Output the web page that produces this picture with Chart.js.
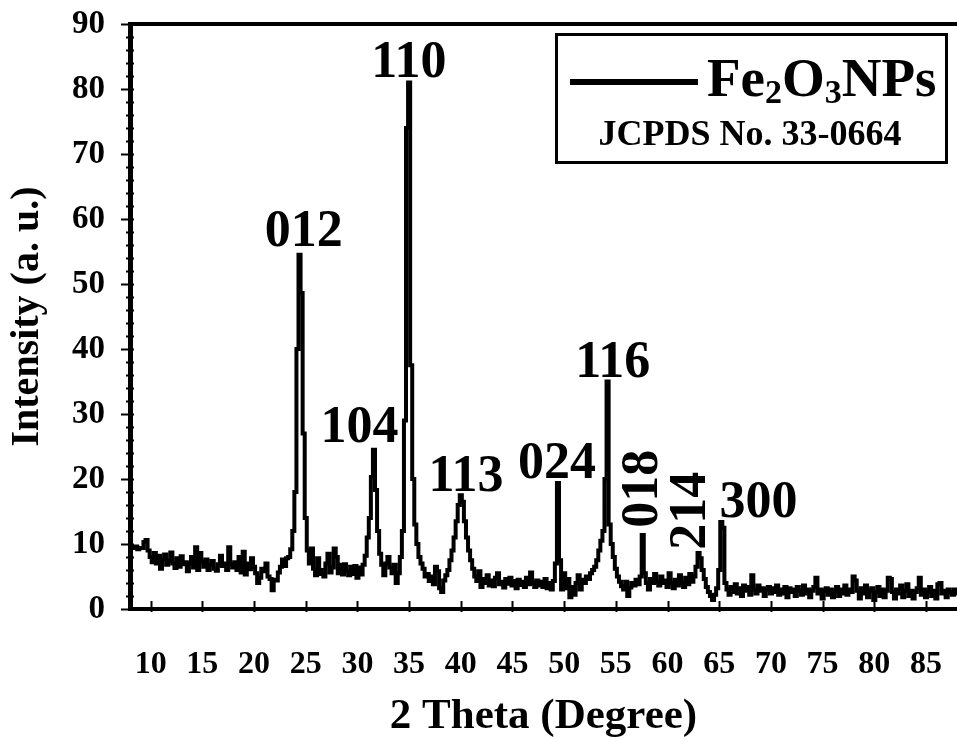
<!DOCTYPE html>
<html>
<head>
<meta charset="utf-8">
<script src="https://cdn.jsdelivr.net/npm/chart.js@4.4.0/dist/chart.umd.min.js"></script>
<style>
  html, body { margin: 0; padding: 0; background: #fff; }
  #wrap { width: 957px; height: 739px; }
</style>
</head>
<body>
<div id="wrap"><canvas id="chart" width="957" height="739"></canvas></div>
<script>
// XRD pattern, 2θ from 8° to 88° in 0.2° steps
const thetaStart = 8;
const thetaStep = 0.2;
const intensity = [
    8.5, 9.5, 9.4, 9.6, 9.2, 9.4, 9.4, 10.3, 10.6, 9.0,   // 8
    8.0, 7.2, 8.6, 7.0, 8.2, 6.2, 7.6, 8.4, 6.8, 7.4,     // 10
    8.7, 7.0, 6.3, 7.8, 6.5, 8.1, 6.9, 7.2, 5.8, 7.0,     // 12
    8.0, 6.4, 9.5, 6.0, 8.6, 7.3, 6.5, 7.6, 6.0, 6.8,     // 14
    7.4, 6.2, 5.9, 6.9, 8.2, 6.6, 7.0, 6.0, 9.5, 6.9,     // 16
    6.4, 7.2, 6.0, 8.0, 5.6, 8.8, 5.3, 7.0, 6.1, 7.8,     // 18
    6.5, 5.5, 4.0, 4.8, 6.2, 5.8, 7.0, 5.0, 4.6, 2.9,     // 20
    4.5, 4.4, 5.6, 6.5, 7.6, 6.6, 7.8, 8.0, 9.2, 12,      // 22
    18, 40, 54.5, 48.6, 27, 14, 9, 7, 9.3, 6.2,           // 24
    5.2, 7.8, 5.4, 6.0, 5.0, 7.0, 8.5, 5.6, 6.4, 9.3,     // 26
    8.0, 5.5, 6.8, 5.3, 6.9, 5.8, 5.2, 6.5, 5.4, 6.6,     // 28
    4.8, 6.4, 5.3, 6.8, 8.2, 11, 14, 20.3, 24.5, 18.3,    // 30
    12, 8.5, 6.8, 5.2, 7.0, 8.0, 6.4, 5.5, 6.8, 4.0,      // 32
    5.5, 8.0, 12, 29, 74, 81, 37.5, 20, 13, 10,           // 34
    8, 7, 6.2, 5.0, 5.4, 4.3, 5.0, 3.8, 6.5, 5.8,         // 36
    3.2, 2.6, 4.4, 5.2, 6.0, 7.5, 9.0, 11, 13.5, 16,      // 38
    17.5, 16.5, 13.5, 11, 9.0, 7.5, 6.2, 5.0, 4.3, 5.8,   // 40
    3.4, 4.6, 4.0, 5.2, 3.6, 4.4, 3.5, 4.8, 5.5, 3.8,     // 42
    4.2, 3.3, 4.6, 3.9, 4.8, 3.6, 4.3, 3.2, 4.5, 3.7,     // 44
    4.2, 3.4, 4.8, 3.8, 5.6, 4.0, 3.4, 4.4, 3.6, 4.2,     // 46
    3.4, 4.6, 3.2, 4.0, 3.0, 4.3, 7.0, 19.4, 7.5, 3.0,    // 48
    5.5, 3.2, 4.6, 1.8, 3.4, 2.2, 4.0, 5.2, 3.0, 4.5,     // 50
    4.0, 5.0, 4.6, 5.5, 6.0, 6.5, 7.5, 9, 10.5, 12,       // 52
    20, 35, 13, 10, 8, 6.2, 5.0, 4.2, 3.5, 3.0,           // 54
    4.2, 2.0, 3.3, 4.0, 3.6, 4.5, 3.8, 5.0, 11.4, 5.5,    // 56
    4.0, 3.0, 4.6, 4.0, 5.4, 4.2, 3.6, 5.0, 4.0, 4.4,     // 58
    3.4, 5.5, 4.0, 3.2, 4.5, 3.6, 5.2, 4.0, 3.4, 4.8,     // 60
    3.8, 5.4, 4.2, 5.0, 6.5, 8.6, 7.8, 6.0, 4.6, 3.4,     // 62
    2.6, 2.0, 1.4, 2.2, 3.2, 6.0, 13.4, 12.5, 4.0, 3.0,   // 64
    2.2, 3.4, 2.6, 3.8, 2.4, 3.2, 2.0, 3.6, 2.8, 3.4,     // 66
    2.2, 5.2, 3.0, 2.4, 3.6, 2.8, 3.2, 2.0, 3.0, 3.4,     // 68
    2.4, 3.2, 2.6, 3.6, 2.2, 3.0, 2.4, 3.4, 1.8, 3.2,     // 70
    2.6, 3.0, 2.0, 3.4, 2.8, 2.2, 3.6, 2.4, 3.0, 1.8,     // 72
    2.8, 3.4, 4.8, 2.4, 3.0, 1.6, 2.8, 3.2, 2.2, 3.0,     // 74
    1.8, 2.6, 3.4, 2.0, 3.0, 2.4, 3.6, 2.2, 3.0, 2.6,     // 76
    5.0, 4.4, 2.8, 1.6, 3.2, 2.4, 3.6, 1.8, 2.8, 3.2,     // 78
    1.4, 2.6, 3.4, 2.0, 3.0, 1.8, 2.8, 4.8, 4.6, 2.6,     // 80
    1.6, 3.0, 2.4, 3.6, 1.8, 2.8, 3.8, 2.0, 2.8, 1.6,     // 82
    2.6, 3.2, 4.8, 2.2, 3.0, 1.8, 2.6, 3.4, 2.0, 2.8,     // 84
    1.6, 3.8, 4.0, 2.4, 2.8, 1.8, 3.0, 2.6, 2.2, 3.0,     // 86
    2.4                                                   // 88
];

const xTickValues = [10, 15, 20, 25, 30, 35, 40, 45, 50, 55, 60, 65, 70, 75, 80, 85];

// hkl labels, anchored in data units
const peakLabels = ['012', '110', '104', '113', '024', '116', '018', '214', '300'];
const peakLabelX = [24.8, 34.98, 30.2, 40.5, 49.3, 54.7, 57.66, 62.35, 68.8];
const peakLabelY = [55.8, 81.8, 25.7, 18.2, 20.2, 35.7, 18.5, 15.1, 14.2];
const peakLabelRotated = [false, false, false, false, false, false, true, true, false];

const legendNote = 'JCPDS No. 33-0664';

const serif = '"Liberation Serif", "Times New Roman", serif';

const decorations = {
    id: 'decorations',
    afterDraw(chart) {
        const { ctx, chartArea: a, scales: { x, y } } = chart;
        ctx.save();
        ctx.strokeStyle = '#000';
        ctx.fillStyle = '#000';

        // y ticks: major every 10 (outside), minor every 2
        ctx.lineWidth = 2;
        ctx.beginPath();
        for (let v = 0; v <= 90; v += 2) {
            const py = Math.round(y.getPixelForValue(v)) + 0.5;
            const major = v % 10 === 0;
            ctx.moveTo(a.left - (major ? 9 : 4), py);
            ctx.lineTo(a.left + 4, py);
        }
        // x ticks point inward
        xTickValues.forEach(v => {
            const px = Math.round(x.getPixelForValue(v)) + 0.5;
            ctx.moveTo(px, a.bottom + 3);
            ctx.lineTo(px, a.bottom - 8);
        });
        ctx.stroke();

        // top frame line
        ctx.lineWidth = 4;
        ctx.beginPath();
        ctx.moveTo(a.left, a.top);
        ctx.lineTo(a.right, a.top);
        ctx.stroke();

        // peak labels
        ctx.font = 'bold 52px ' + serif;
        peakLabels.forEach((t, i) => {
            const px = x.getPixelForValue(peakLabelX[i]);
            const py = y.getPixelForValue(peakLabelY[i]);
            ctx.save();
            ctx.translate(px, py);
            ctx.textAlign = 'center';
            if (peakLabelRotated[i]) {
                ctx.rotate(-Math.PI / 2);
                ctx.textBaseline = 'middle';
            } else {
                ctx.textBaseline = 'alphabetic';
            }
            ctx.fillText(t, 0, 0);
            ctx.restore();
        });

        // legend box
        ctx.lineWidth = 3;
        ctx.strokeRect(556.5, 34.5, 390, 128);
        ctx.lineWidth = 6;
        ctx.beginPath();
        ctx.moveTo(570, 82);
        ctx.lineTo(698, 82);
        ctx.stroke();

        let tx = 707;
        const parts = [['Fe', false], ['2', true], ['O', false], ['3', true], ['NPs', false]];
        ctx.textAlign = 'left';
        ctx.textBaseline = 'alphabetic';
        parts.forEach(([s, sub]) => {
            ctx.font = sub ? 'bold 34px ' + serif : 'bold 55px ' + serif;
            ctx.fillText(s, tx, sub ? 103 : 96);
            tx += ctx.measureText(s).width;
        });
        ctx.font = 'bold 36px ' + serif;
        ctx.textAlign = 'center';
        ctx.fillText(legendNote, 750, 145);
        ctx.restore();
    }
};

const ctx = document.getElementById('chart');

new Chart(ctx, {
    type: 'line',
    data: {
        datasets: [{
            label: 'Fe2O3NPs',
            data: intensity.map((v, i) => ({ x: thetaStart + i * thetaStep, y: v })),
            borderColor: '#000',
            borderWidth: 4,
            pointRadius: 0,
            stepped: 'middle',
            fill: false
        }]
    },
    options: {
        responsive: false,
        animation: false,
        layout: { padding: { top: 24, right: 0, left: 0, bottom: 0 } },
        plugins: {
            legend: { display: false },
            tooltip: { enabled: false }
        },
        scales: {
            x: {
                type: 'linear',
                min: 8,
                max: 88,
                afterFit(s) {
                    s.height = 130;
                    s.paddingLeft = 0;
                    s.paddingRight = 0;
                },
                afterBuildTicks(s) { s.ticks = xTickValues.map(v => ({ value: v })); },
                grid: { display: false, drawTicks: false },
                border: { color: '#000', width: 4 },
                ticks: {
                    color: '#000',
                    autoSkip: false,
                    maxRotation: 0,
                    padding: 37,
                    font: { family: serif, size: 32, weight: 'bold' }
                },
                title: {
                    display: true,
                    text: '2 Theta (Degree)',
                    color: '#000',
                    font: { family: serif, size: 43, weight: 'bold' },
                    padding: { top: 0, bottom: -4 }
                }
            },
            y: {
                min: 0,
                max: 90,
                afterFit(s) {
                    s.width = 130;
                    s.paddingTop = 0;
                    s.paddingBottom = 0;
                },
                grid: { display: false, drawTicks: false },
                border: { color: '#000', width: 5 },
                ticks: {
                    stepSize: 10,
                    color: '#000',
                    padding: 25,
                    font: { family: serif, size: 33, weight: 'bold' }
                },
                title: {
                    display: true,
                    text: 'Intensity (a. u.)',
                    color: '#000',
                    font: { family: serif, size: 40, weight: 'bold' },
                    padding: { top: 4, bottom: 0 }
                }
            }
        }
    },
    plugins: [decorations]
});
</script>
</body>
</html>
